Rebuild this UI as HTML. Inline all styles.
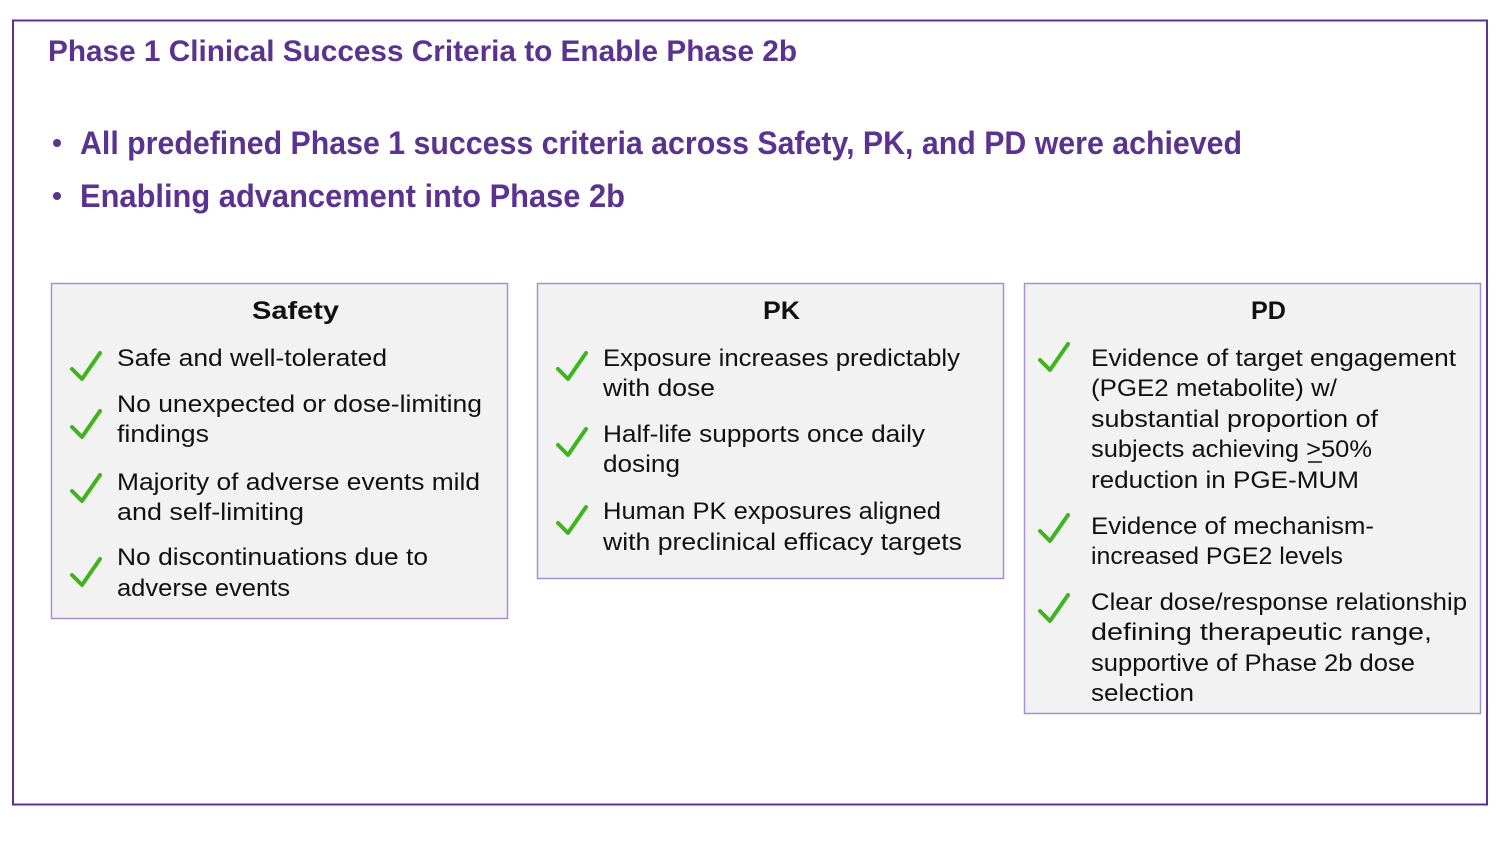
<!DOCTYPE html>
<html><head><meta charset="utf-8"><style>
html,body{margin:0;padding:0;background:#fff;}
svg{display:block;}
text{font-family:"Liberation Sans",sans-serif;}
.t{font-size:24px;fill:#111;}
.h{font-size:25px;font-weight:bold;fill:#111;}
.p{font-weight:bold;fill:#5b3290;}
.c{fill:none;stroke:#3fb51d;stroke-width:4;stroke-linecap:round;stroke-linejoin:round;}
</style></head><body>
<svg width="1500" height="844" viewBox="0 0 1500 844" xmlns="http://www.w3.org/2000/svg">
<rect x="13" y="20.5" width="1474" height="784" fill="#fff" stroke="#5b3290" stroke-width="2"/>
<text class="p" x="48" y="61" font-size="30" textLength="749" lengthAdjust="spacingAndGlyphs">Phase 1 Clinical Success Criteria to Enable Phase 2b</text>
<circle cx="57" cy="143" r="4" fill="#5b3290"/>
<circle cx="57" cy="196" r="4" fill="#5b3290"/>
<text class="p" x="80" y="154" font-size="32" textLength="1162" lengthAdjust="spacingAndGlyphs">All predefined Phase 1 success criteria across Safety, PK, and PD were achieved</text>
<text class="p" x="80" y="207" font-size="32" textLength="545" lengthAdjust="spacingAndGlyphs">Enabling advancement into Phase 2b</text>

<rect x="51.5" y="283.5" width="456" height="335" fill="#f2f2f2" stroke="#a78fd0" stroke-width="1.5"/>
<rect x="537.5" y="283.5" width="466" height="295" fill="#f2f2f2" stroke="#a78fd0" stroke-width="1.5"/>
<rect x="1024.5" y="283.5" width="456" height="430" fill="#f2f2f2" stroke="#a78fd0" stroke-width="1.5"/>

<text class="h" x="252" y="319" textLength="87" lengthAdjust="spacingAndGlyphs">Safety</text>
<text class="h" x="763" y="319" textLength="37" lengthAdjust="spacingAndGlyphs">PK</text>
<text class="h" x="1251" y="319" textLength="35" lengthAdjust="spacingAndGlyphs">PD</text>

<g class="t">
<text x="117" y="366" textLength="270" lengthAdjust="spacingAndGlyphs">Safe and well-tolerated</text>
<text x="117" y="412" textLength="365" lengthAdjust="spacingAndGlyphs">No unexpected or dose-limiting</text>
<text x="117" y="442" textLength="92" lengthAdjust="spacingAndGlyphs">findings</text>
<text x="117" y="490" textLength="363" lengthAdjust="spacingAndGlyphs">Majority of adverse events mild</text>
<text x="117" y="520" textLength="187" lengthAdjust="spacingAndGlyphs">and self-limiting</text>
<text x="117" y="565" textLength="311" lengthAdjust="spacingAndGlyphs">No discontinuations due to</text>
<text x="117" y="596" textLength="173" lengthAdjust="spacingAndGlyphs">adverse events</text>

<text x="603" y="366" textLength="357" lengthAdjust="spacingAndGlyphs">Exposure increases predictably</text>
<text x="603" y="396" textLength="112" lengthAdjust="spacingAndGlyphs">with dose</text>
<text x="603" y="442" textLength="322" lengthAdjust="spacingAndGlyphs">Half-life supports once daily</text>
<text x="603" y="472" textLength="77" lengthAdjust="spacingAndGlyphs">dosing</text>
<text x="603" y="519" textLength="338" lengthAdjust="spacingAndGlyphs">Human PK exposures aligned</text>
<text x="603" y="550" textLength="359" lengthAdjust="spacingAndGlyphs">with preclinical efficacy targets</text>

<text x="1091" y="366" textLength="365" lengthAdjust="spacingAndGlyphs">Evidence of target engagement</text>
<text x="1091" y="396" textLength="246" lengthAdjust="spacingAndGlyphs">(PGE2 metabolite) w/</text>
<text x="1091" y="427" textLength="287" lengthAdjust="spacingAndGlyphs">substantial proportion of</text>
<text x="1091" y="457" textLength="281" lengthAdjust="spacingAndGlyphs">subjects achieving &gt;50%</text>
<text x="1091" y="488" textLength="268" lengthAdjust="spacingAndGlyphs">reduction in PGE-MUM</text>
<text x="1091" y="534" textLength="283" lengthAdjust="spacingAndGlyphs">Evidence of mechanism-</text>
<text x="1091" y="564" textLength="252" lengthAdjust="spacingAndGlyphs">increased PGE2 levels</text>
<text x="1091" y="610" textLength="376" lengthAdjust="spacingAndGlyphs">Clear dose/response relationship</text>
<text x="1091" y="640" textLength="341" lengthAdjust="spacingAndGlyphs">defining therapeutic range,</text>
<text x="1091" y="671" textLength="324" lengthAdjust="spacingAndGlyphs">supportive of Phase 2b dose</text>
<text x="1091" y="701" textLength="103" lengthAdjust="spacingAndGlyphs">selection</text>
</g>
<line x1="1308" y1="462" x2="1322" y2="462" stroke="#111" stroke-width="1.5"/>

<g class="c">
<path d="M72 369 L82 379 L100 353"/>
<path d="M72 427 L82 437 L100 411"/>
<path d="M72 491 L82 501 L100 475"/>
<path d="M72 575 L82 585 L100 559"/>
<path d="M558 369 L568 379 L586 353"/>
<path d="M558 445 L568 455 L586 429"/>
<path d="M558 523 L568 533 L586 507"/>
<path d="M1040 360 L1050 370 L1068 344"/>
<path d="M1040 531 L1050 541 L1068 515"/>
<path d="M1040 611 L1050 621 L1068 595"/>
</g>
</svg>
</body></html>
